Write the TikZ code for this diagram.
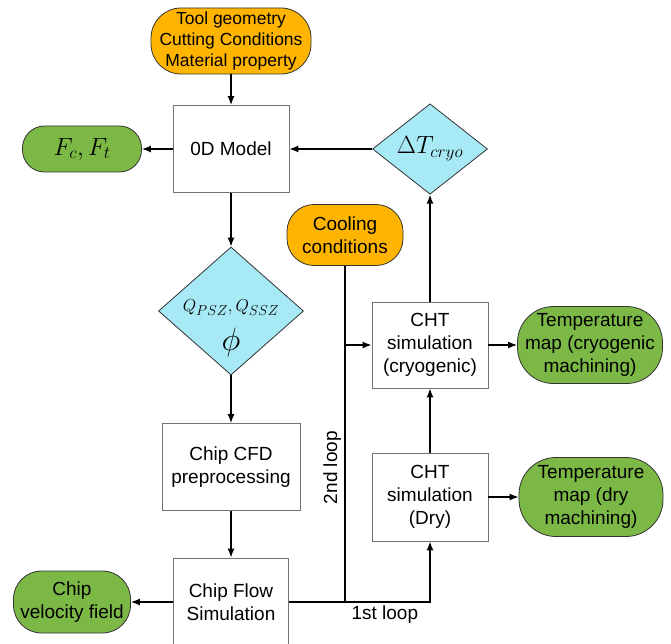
\documentclass[tikz,border=0pt]{standalone}
\usepackage{fontspec}
\setmainfont{Liberation Sans}
\usetikzlibrary{shapes.geometric, arrows.meta}
\definecolor{termorange}{RGB}{255,181,0}
\definecolor{termgreen}{RGB}{124,184,70}
\definecolor{decicyan}{RGB}{168,233,246}
\tikzstyle{arrow} = [line width=1.4pt,-{Latex[length=9pt,width=7pt]}]
\tikzstyle{plain} = [line width=1.4pt]
\tikzstyle{terminal} = [draw=black!80, line width=0.8pt, align=center, inner sep=0pt,
    font=\fontsize{19}{23}\selectfont]
\tikzstyle{process} = [draw=black!55, line width=0.8pt, fill=white, align=center,
    minimum width=116pt, minimum height=87pt, inner sep=0pt, font=\fontsize{19}{23}\selectfont]
\tikzstyle{decision} = [diamond, draw=black!80, line width=0.8pt, fill=decicyan,
    inner sep=0pt, align=center, font=\fontsize{19}{23}\selectfont]

\begin{document}
\begin{tikzpicture}[x=1pt, y=-1pt]
    \useasboundingbox (0,0) rectangle (671,644);
    % inputs and 0D model
    \node[terminal, fill=termorange, minimum width=160pt, minimum height=66pt,
        rounded corners=30pt, font=\fontsize{17.5}{21}\selectfont]
        (inputs) at (231,41) {Tool geometry\\Cutting Conditions\\Material property};
    \node[process] (model) at (231,149) {0D Model};
    \node[terminal, fill=termgreen, minimum width=119pt, minimum height=46pt,
        rounded corners=22pt] (forces) at (82,149) {\fontsize{25}{25}\selectfont$F_c, F_t$};
    \node[decision, minimum width=115pt, minimum height=87pt]
        (dtcryo) at (430,149) {\fontsize{24}{24}\selectfont$\Delta T_{cryo}$};
    \node[decision, minimum width=145pt, minimum height=128pt] (heat) at (231,311)
        {\raisebox{-20pt}[8pt][8pt]{\begin{tabular}{c}$Q_{PSZ},Q_{SSZ}$\\[10pt]
        {\fontsize{24}{24}\selectfont\scalebox{1.3}{$\phi$}}\end{tabular}}};
    % chip CFD
    \node[process, minimum width=138pt] (cfd) at (231,467) {Chip CFD\\preprocessing};
    \node[process, minimum width=115pt, minimum height=88pt] (flow) at (231,602) {Chip Flow\\Simulation};
    \node[terminal, fill=termgreen, minimum width=117pt, minimum height=62pt,
        rounded corners=28pt] (velocity) at (72,602) {Chip\\velocity field};
    % CHT loops
    \node[terminal, fill=termorange, minimum width=116pt, minimum height=61pt,
        rounded corners=27pt] (cooling) at (345,235) {Cooling\\conditions};
    \node[process, minimum height=86pt] (chtcryo) at (430,345) {CHT\\simulation\\(cryogenic)};
    \node[terminal, fill=termgreen, minimum width=145pt, minimum height=77pt,
        rounded corners=36pt] (tempcryo) at (590,345) {Temperature\\map (cryogenic\\machining)};
    \node[process, minimum height=88pt] (chtdry) at (430,497) {CHT\\simulation\\(Dry)};
    \node[terminal, fill=termgreen, minimum width=144pt, minimum height=79pt,
        rounded corners=37pt] (tempdry) at (591,497) {Temperature\\map (dry\\machining)};

    \draw[arrow] (inputs) -- (model);
    \draw[arrow] (model) -- (forces);
    \draw[arrow] (dtcryo) -- (model);
    \draw[arrow] (model) -- (heat);
    \draw[arrow] (heat) -- (cfd);
    \draw[arrow] (cfd) -- (flow);
    \draw[arrow] (flow) -- (velocity);
    \draw[arrow] (flow.east) -- node[below, pos=0.68, font=\fontsize{19}{23}\selectfont] {1st loop}
        (flow.east -| chtdry.south) -- (chtdry.south);
    \draw[plain] (cooling.south) -- node[rotate=90, above, pos=0.6, font=\fontsize{19}{23}\selectfont] {2nd loop}
        (cooling.south |- flow.east);
    \draw[arrow] (cooling.south |- chtcryo.west) -- (chtcryo.west);
    \draw[arrow] (chtdry) -- (chtcryo);
    \draw[arrow] (chtcryo) -- (dtcryo);
    \draw[arrow] (chtcryo) -- (tempcryo);
    \draw[arrow] (chtdry) -- (tempdry);
\end{tikzpicture}
\end{document}
